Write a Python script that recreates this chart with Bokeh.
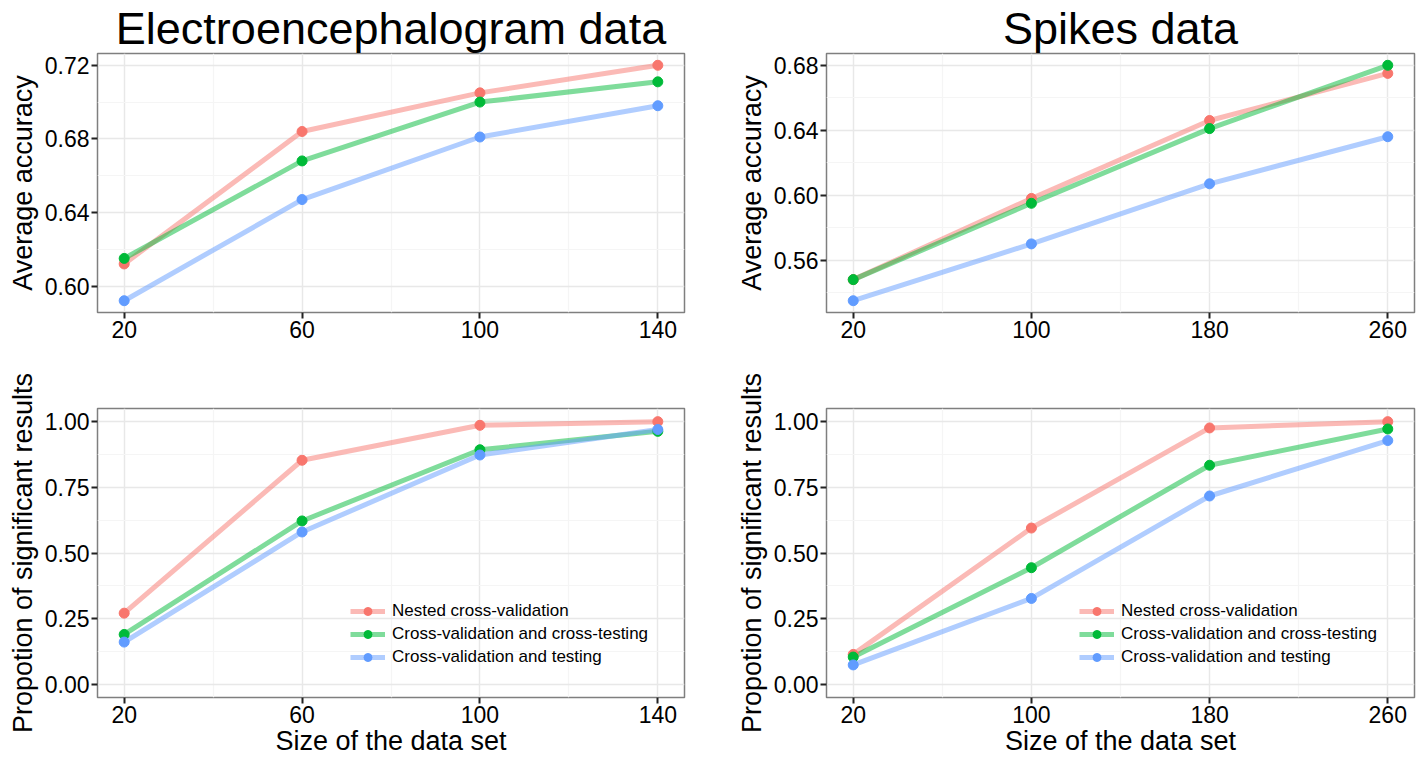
from bokeh.plotting import figure
from bokeh.layouts import gridplot
from bokeh.models import FixedTicker, NumeralTickFormatter, Range1d, Legend, LegendItem
from bokeh.embed import file_html
from bokeh.resources import INLINE

methods = ["Nested cross-validation", "Cross-validation and cross-testing", "Cross-validation and testing"]
colors = ["#F8766D", "#00BA38", "#619CFF"]

eeg_sizes = [20, 60, 100, 140]
spk_sizes = [20, 100, 180, 260]

eeg_acc_nested = [0.612, 0.684, 0.705, 0.720]
eeg_acc_cvct = [0.615, 0.668, 0.700, 0.711]
eeg_acc_cvt = [0.592, 0.647, 0.681, 0.698]

spk_acc_nested = [0.548, 0.598, 0.646, 0.675]
spk_acc_cvct = [0.548, 0.595, 0.641, 0.680]
spk_acc_cvt = [0.535, 0.570, 0.607, 0.636]

eeg_sig_nested = [0.271, 0.853, 0.986, 1.000]
eeg_sig_cvct = [0.190, 0.622, 0.893, 0.963]
eeg_sig_cvt = [0.161, 0.580, 0.873, 0.970]

spk_sig_nested = [0.114, 0.595, 0.976, 1.000]
spk_sig_cvct = [0.104, 0.444, 0.834, 0.972]
spk_sig_cvt = [0.074, 0.327, 0.717, 0.928]

eeg_x_ticks = [20, 60, 100, 140]
eeg_x_minor = [40, 80, 120]
spk_x_ticks = [20, 100, 180, 260]
spk_x_minor = [60, 140, 220]
eeg_acc_ticks = [0.60, 0.64, 0.68, 0.72]
eeg_acc_minor = [0.62, 0.66, 0.70]
spk_acc_ticks = [0.56, 0.60, 0.64, 0.68]
spk_acc_minor = [0.54, 0.58, 0.62, 0.66]
sig_ticks = [0.0, 0.25, 0.50, 0.75, 1.0]
sig_minor = [0.125, 0.375, 0.625, 0.875]

titles = ["Electroencephalogram data", "Spikes data"]
ylabel_acc = "Average accuracy"
ylabel_sig = "Propotion of significant results"
xlabel = "Size of the data set"

FONT = "Liberation Sans"


def expand(lo, hi, f=0.05):
    d = (hi - lo) * f
    return Range1d(lo - d, hi + d)


def panel(sizes, series, xticks, xminor, yticks, yminor, ylabel, yrng,
          width, height, bl, br, bt, bb, title=None, xlab=None, legend=False):
    p = figure(width=width, height=height, output_backend="svg", toolbar_location=None,
               min_border_left=bl, min_border_right=br, min_border_top=bt, min_border_bottom=bb,
               x_range=expand(min(sizes), max(sizes)), y_range=yrng)
    p.background_fill_color = "white"
    p.border_fill_color = "white"
    p.outline_line_color = "#7f7f7f"
    p.outline_line_width = 1.5
    if title:
        p.title.text = title
        p.title.text_font = FONT
        p.title.text_font_size = "45px"
        p.title.text_font_style = "normal"
        p.title.text_color = "black"
        p.title.align = "center"
        p.title.standoff = 0
        p.title.offset = 0
    p.xaxis.ticker = FixedTicker(ticks=xticks, minor_ticks=xminor)
    p.yaxis.ticker = FixedTicker(ticks=yticks, minor_ticks=yminor)
    p.xaxis.formatter = NumeralTickFormatter(format="0")
    p.yaxis.formatter = NumeralTickFormatter(format="0.00")
    for ax in (p.xaxis[0], p.yaxis[0]):
        ax.axis_line_color = None
        ax.major_tick_out = 6
        ax.major_tick_in = 0
        ax.major_tick_line_color = "#222222"
        ax.major_tick_line_width = 2
        ax.minor_tick_line_color = None
        ax.major_label_text_font = FONT
        ax.major_label_text_font_size = "23px"
        ax.major_label_text_color = "black"
        ax.major_label_standoff = 2
        ax.axis_label_text_font = FONT
        ax.axis_label_text_font_size = "27px"
        ax.axis_label_text_font_style = "normal"
        ax.axis_label_text_color = "black"
        ax.axis_label_standoff = 4
    p.yaxis.axis_label = ylabel
    if xlab:
        p.xaxis.axis_label = xlab
        p.xaxis.axis_label_standoff = 0
    for g in (p.xgrid[0], p.ygrid[0]):
        g.grid_line_color = "#E8E8E8"
        g.grid_line_width = 1.5
        g.minor_grid_line_color = "#F5F5F5"
        g.minor_grid_line_width = 1.2
    lines = []
    for vals, c in zip(series, colors):
        lines.append(p.line(sizes, vals, line_color=c, line_width=5, line_alpha=0.5))
    pts = []
    for vals, c in zip(series, colors):
        pts.append(p.scatter(sizes, vals, marker="circle", size=10, fill_color=c, line_color=c))
    if legend:
        items = [LegendItem(label=m, renderers=[lr, sr]) for m, lr, sr in zip(methods, lines, pts)]
        lg = Legend(items=items, location=(253, 30), label_text_font=FONT,
                    label_text_font_size="17px", label_text_color="black",
                    glyph_width=35, glyph_height=20,
                    label_height=20, spacing=3, padding=0, margin=0, label_standoff=7,
                    background_fill_alpha=0, border_line_color=None)
        p.add_layout(lg)
    return p


sig_range_lo, sig_range_hi = 0.0, 1.0

tl = panel(eeg_sizes, [eeg_acc_nested, eeg_acc_cvct, eeg_acc_cvt], eeg_x_ticks, eeg_x_minor,
           eeg_acc_ticks, eeg_acc_minor, ylabel_acc,
           expand(min(eeg_acc_cvt), max(eeg_acc_nested)),
           716, 360, 97, 32, 52, 48, title=titles[0])
tr = panel(spk_sizes, [spk_acc_nested, spk_acc_cvct, spk_acc_cvt], spk_x_ticks, spk_x_minor,
           spk_acc_ticks, spk_acc_minor, ylabel_acc,
           expand(min(spk_acc_cvt), max(spk_acc_cvct)),
           704, 360, 110, 6, 52, 48, title=titles[1])
bl = panel(eeg_sizes, [eeg_sig_nested, eeg_sig_cvct, eeg_sig_cvt], eeg_x_ticks, eeg_x_minor,
           sig_ticks, sig_minor, ylabel_sig, expand(sig_range_lo, sig_range_hi),
           716, 400, 97, 32, 48, 63, xlab=xlabel, legend=True)
br = panel(spk_sizes, [spk_sig_nested, spk_sig_cvct, spk_sig_cvt], spk_x_ticks, spk_x_minor,
           sig_ticks, sig_minor, ylabel_sig, expand(sig_range_lo, sig_range_hi),
           704, 400, 110, 6, 48, 63, xlab=xlabel, legend=True)

p = gridplot([[tl, tr], [bl, br]], toolbar_location=None)

open("out.html", "w").write(file_html(p, INLINE))
